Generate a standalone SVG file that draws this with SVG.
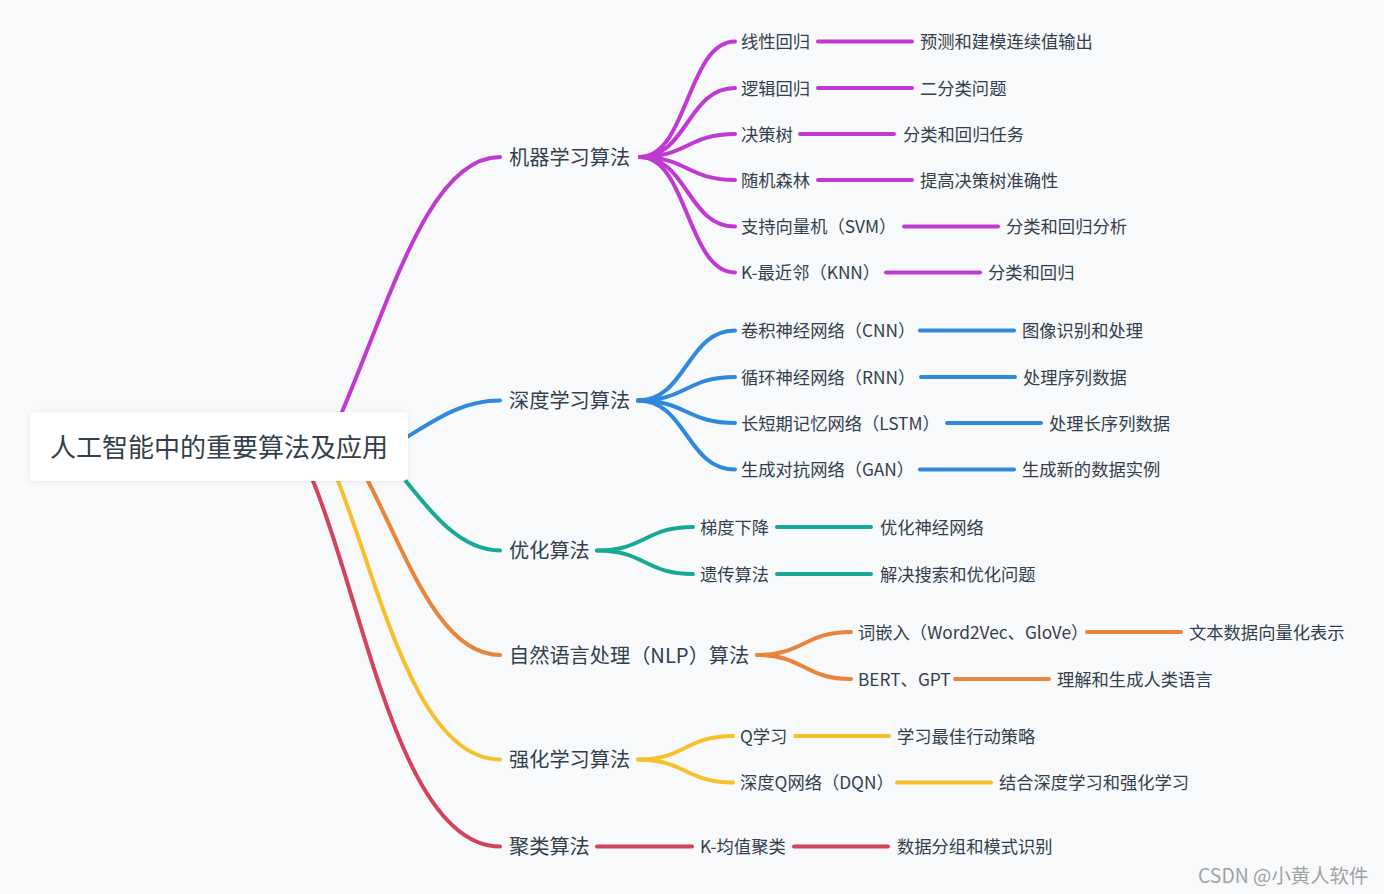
<svg xmlns="http://www.w3.org/2000/svg" width="1384" height="894" viewBox="0 0 1384 894">
<defs>
<filter id="sh" x="-10%" y="-30%" width="120%" height="160%">
<feDropShadow dx="0" dy="1" stdDeviation="3" flood-color="#000" flood-opacity="0.07"/>
</filter>
<style>
.c path,.c line{fill:none;stroke-width:4;stroke-linecap:round}
.p{stroke:#c03ad2}.b{stroke:#2e88db}.g{stroke:#17a996}.o{stroke:#e8853a}.y{stroke:#f7c02b}.r{stroke:#d1445c}
text{font-family:"Noto Sans CJK SC","Noto Sans",sans-serif;fill:#333f4c}
.lf{font-size:17.3px}
.br{font-size:20.2px}
.rt{font-size:26px}
.wm{font-size:19.4px;fill:#a2a2a2}
</style>
</defs>
<rect width="1384" height="894" fill="#f7f9fb"/>
<g id="connectors" class="c">
<path class="p" d="M342,412 C392,294.5 430,157 500,157"/>
<path class="b" d="M407,437 C432,422.3 460,400.5 500,400.5"/>
<path class="g" d="M405,480 C430,511.25 460,550.5 500,550.5"/>
<path class="o" d="M368,481 C408,559 440,655 500,655"/>
<path class="y" d="M338,481 C378,581 415,759.5 500,759.5"/>
<path class="r" d="M313,481 C363,601 400,846.5 500,846.5"/>
<path class="p" d="M640,157 C687.5,157 687.5,41.5 735,41.5"/>
<path class="p" d="M640,157 C687.5,157 687.5,88 735,88"/>
<path class="p" d="M640,157 C687.5,157 687.5,134 735,134"/>
<path class="p" d="M640,157 C687.5,157 687.5,180 735,180"/>
<path class="p" d="M640,157 C687.5,157 687.5,226.5 735,226.5"/>
<path class="p" d="M640,157 C687.5,157 687.5,272.5 735,272.5"/>
<line class="p" x1="818" y1="41.5" x2="912" y2="41.5"/>
<line class="p" x1="818" y1="88" x2="912" y2="88"/>
<line class="p" x1="800" y1="134" x2="894" y2="134"/>
<line class="p" x1="818" y1="180" x2="912" y2="180"/>
<line class="p" x1="904" y1="226.5" x2="998" y2="226.5"/>
<line class="p" x1="886" y1="272.5" x2="980" y2="272.5"/>
<path class="b" d="M638,400.5 C686.5,400.5 686.5,330.5 735,330.5"/>
<path class="b" d="M638,400.5 C686.5,400.5 686.5,377 735,377"/>
<path class="b" d="M638,400.5 C686.5,400.5 686.5,423 735,423"/>
<path class="b" d="M638,400.5 C686.5,400.5 686.5,469.5 735,469.5"/>
<line class="b" x1="920" y1="330.5" x2="1014" y2="330.5"/>
<line class="b" x1="921" y1="377" x2="1015" y2="377"/>
<line class="b" x1="947" y1="423" x2="1041" y2="423"/>
<line class="b" x1="920" y1="469.5" x2="1014" y2="469.5"/>
<path class="g" d="M597,550.5 C645,550.5 645,527 693,527"/>
<path class="g" d="M597,550.5 C645,550.5 645,574 693,574"/>
<line class="g" x1="777" y1="527" x2="871" y2="527"/>
<line class="g" x1="777" y1="574" x2="871" y2="574"/>
<path class="o" d="M757,655 C804,655 804,632 851,632"/>
<path class="o" d="M757,655 C804,655 804,679 851,679"/>
<line class="o" x1="1087" y1="632" x2="1181" y2="632"/>
<line class="o" x1="955" y1="679" x2="1049" y2="679"/>
<path class="y" d="M638,759.5 C685.5,759.5 685.5,736 733,736"/>
<path class="y" d="M638,759.5 C685.5,759.5 685.5,782.5 733,782.5"/>
<line class="y" x1="795" y1="736" x2="889" y2="736"/>
<line class="y" x1="897" y1="782.5" x2="991" y2="782.5"/>
<line class="r" x1="597" y1="846.5" x2="692" y2="846.5"/>
<line class="r" x1="794" y1="846.5" x2="888" y2="846.5"/>
</g>
<g id="root">
<rect x="30" y="412" width="378" height="69" rx="5" fill="#ffffff" filter="url(#sh)"/>
<text class="rt" x="50" y="456.5">人工智能中的重要算法及应用</text>
</g>
<g id="ml"><text class="br" x="509" y="164.7">机器学习算法</text></g>
<g id="ml-lr"><text class="lf" x="741" y="48.1">线性回归</text></g>
<g id="ml-lr-u"><text class="lf" x="920" y="48.1">预测和建模连续值输出</text></g>
<g id="ml-log"><text class="lf" x="741" y="94.6">逻辑回归</text></g>
<g id="ml-log-u"><text class="lf" x="920" y="94.6">二分类问题</text></g>
<g id="ml-dt"><text class="lf" x="741" y="140.6">决策树</text></g>
<g id="ml-dt-u"><text class="lf" x="903" y="140.6">分类和回归任务</text></g>
<g id="ml-rf"><text class="lf" x="741" y="186.6">随机森林</text></g>
<g id="ml-rf-u"><text class="lf" x="920" y="186.6">提高决策树准确性</text></g>
<g id="ml-svm"><text class="lf" x="741" y="233.1">支持向量机（SVM）</text></g>
<g id="ml-svm-u"><text class="lf" x="1006" y="233.1">分类和回归分析</text></g>
<g id="ml-knn"><text class="lf" x="741" y="279.1">K-最近邻（KNN）</text></g>
<g id="ml-knn-u"><text class="lf" x="988" y="279.1">分类和回归</text></g>
<g id="dl"><text class="br" x="509" y="408.2">深度学习算法</text></g>
<g id="dl-cnn"><text class="lf" x="741" y="337.1">卷积神经网络（CNN）</text></g>
<g id="dl-cnn-u"><text class="lf" x="1022" y="337.1">图像识别和处理</text></g>
<g id="dl-rnn"><text class="lf" x="741" y="383.6">循环神经网络（RNN）</text></g>
<g id="dl-rnn-u"><text class="lf" x="1023" y="383.6">处理序列数据</text></g>
<g id="dl-lstm"><text class="lf" x="741" y="429.6">长短期记忆网络（LSTM）</text></g>
<g id="dl-lstm-u"><text class="lf" x="1049" y="429.6">处理长序列数据</text></g>
<g id="dl-gan"><text class="lf" x="741" y="476.1">生成对抗网络（GAN）</text></g>
<g id="dl-gan-u"><text class="lf" x="1022" y="476.1">生成新的数据实例</text></g>
<g id="opt"><text class="br" x="509" y="558.2">优化算法</text></g>
<g id="opt-gd"><text class="lf" x="700" y="533.6">梯度下降</text></g>
<g id="opt-gd-u"><text class="lf" x="880" y="533.6">优化神经网络</text></g>
<g id="opt-ga"><text class="lf" x="700" y="580.6">遗传算法</text></g>
<g id="opt-ga-u"><text class="lf" x="880" y="580.6">解决搜索和优化问题</text></g>
<g id="nlp"><text class="br" x="509" y="662.7">自然语言处理（NLP）算法</text></g>
<g id="nlp-we"><text class="lf" x="858" y="638.6">词嵌入（Word2Vec、GloVe）</text></g>
<g id="nlp-we-u"><text class="lf" x="1189" y="638.6">文本数据向量化表示</text></g>
<g id="nlp-bert"><text class="lf" x="858" y="685.6">BERT、GPT</text></g>
<g id="nlp-bert-u"><text class="lf" x="1057" y="685.6">理解和生成人类语言</text></g>
<g id="rl"><text class="br" x="509" y="767.2">强化学习算法</text></g>
<g id="rl-q"><text class="lf" x="740" y="742.6">Q学习</text></g>
<g id="rl-q-u"><text class="lf" x="897" y="742.6">学习最佳行动策略</text></g>
<g id="rl-dqn"><text class="lf" x="740" y="789.1">深度Q网络（DQN）</text></g>
<g id="rl-dqn-u"><text class="lf" x="999" y="789.1">结合深度学习和强化学习</text></g>
<g id="cl"><text class="br" x="509" y="854.2">聚类算法</text></g>
<g id="cl-km"><text class="lf" x="700" y="853.1">K-均值聚类</text></g>
<g id="cl-km-u"><text class="lf" x="897" y="853.1">数据分组和模式识别</text></g>
<text class="wm" x="1198" y="882.5">CSDN @小黄人软件</text>
</svg>
